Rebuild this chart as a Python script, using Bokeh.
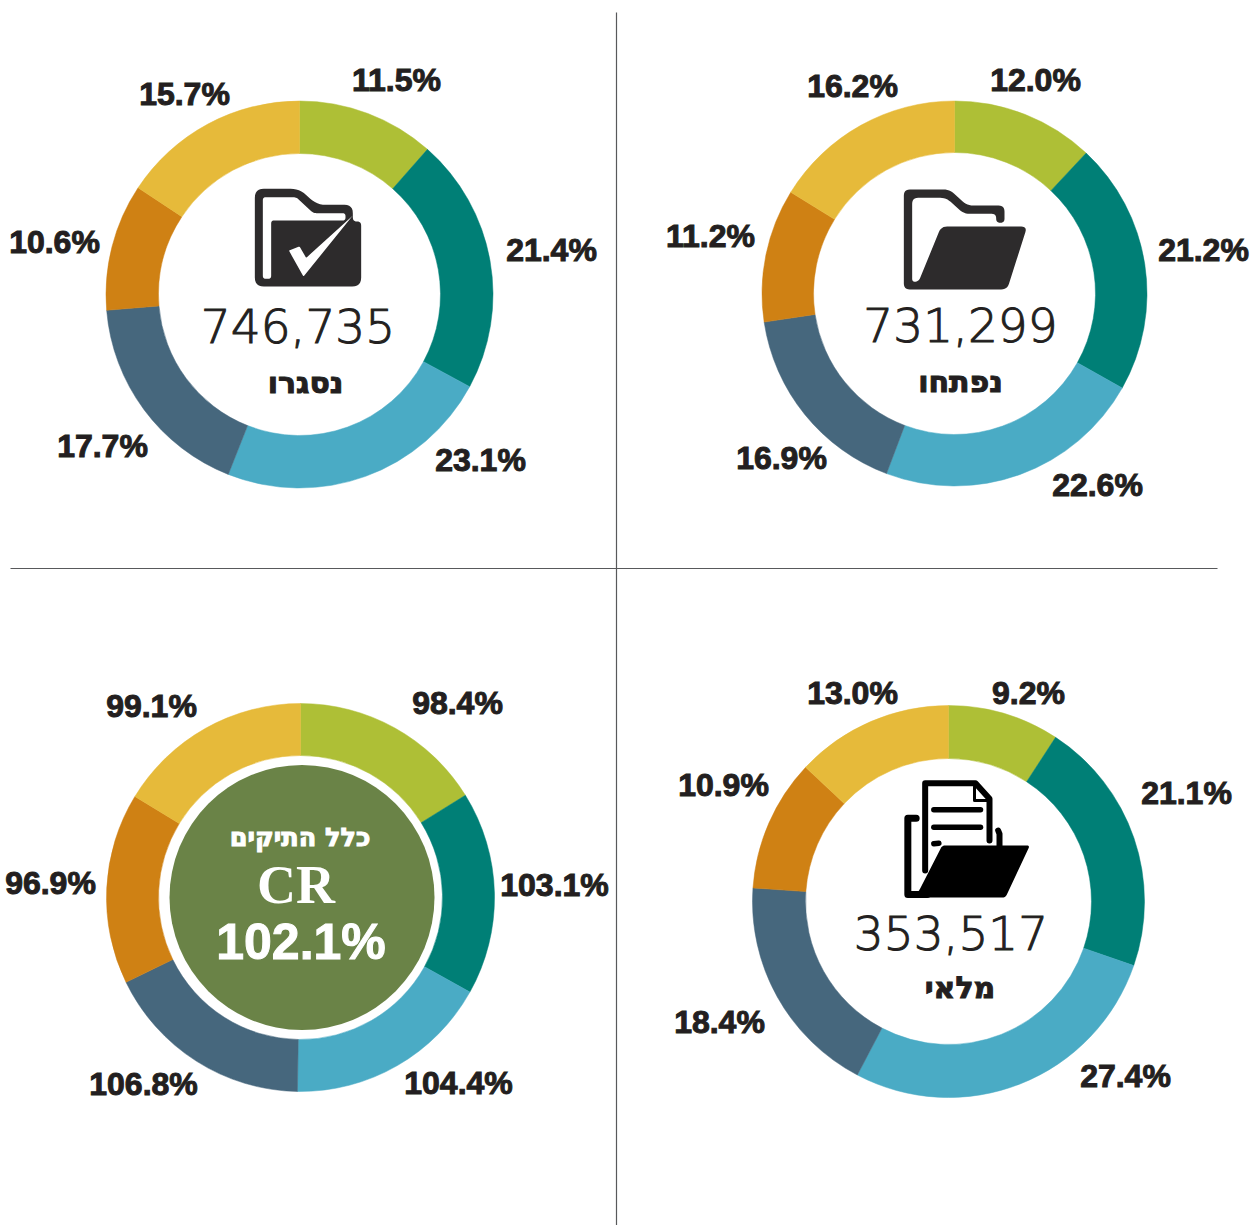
import math
from bokeh.plotting import figure
from bokeh.models import Range1d
from bokeh.core.properties import value
from bokeh.embed import file_html
from bokeh.resources import INLINE

# ---- data ----
closed_share = [11.5, 21.4, 23.1, 17.7, 10.6, 15.7]
opened_share = [12.0, 21.2, 22.6, 16.9, 11.2, 16.2]
cr_ratio = [98.4, 103.1, 104.4, 106.8, 96.9, 99.1]
pending_share = [9.2, 21.1, 27.4, 18.4, 10.9, 13.0]
closed_total = 746735
opened_total = 731299
pending_total = 353517
closed_title = "נסגרו"
opened_title = "נפתחו"
pending_title = "מלאי"
cr_title = "כלל התיקים"
cr_name = "CR"
cr_total = 102.1

# ---- style and layout ----
COLORS = ["#AEBF36", "#007F76", "#4AABC5", "#46677D", "#CF8114", "#E6BA3A"]
INK = "#231F20"
ICON = "#2D2B2C"
LABEL_FONT = "Liberation Sans"
NUM_FONT = "DejaVu Sans Light"
HEB_FONT = "DejaVu Sans"
LABEL_SIZE = "32px"

p = figure(width=1252, height=1225, output_backend="svg", toolbar_location=None,
           x_range=Range1d(0, 1252), y_range=Range1d(1225, 0),
           min_border=0, outline_line_color=None, background_fill_color="white")
p.axis.visible = False
p.grid.visible = False


def donut(vals, cx, cy, r_out, r_in, label_xy):
    total = sum(vals)
    cum = 0.0
    starts, ends = [], []
    for v in vals:
        ends.append(math.pi / 2 - cum / total * 2 * math.pi)
        cum += v
        starts.append(math.pi / 2 - cum / total * 2 * math.pi)
    p.annular_wedge(x=[cx] * 6, y=[cy] * 6, inner_radius=r_in, outer_radius=r_out,
                    start_angle=starts, end_angle=ends, fill_color=COLORS,
                    line_color=COLORS, line_width=0.5)
    p.text(x=[q[0] - 1 for q in label_xy], y=[q[1] - 1.5 for q in label_xy],
           text=[f"{v:.1f}%" for v in vals], text_align="center", text_baseline="middle",
           text_font=value(LABEL_FONT), text_font_style="bold",
           text_font_size=LABEL_SIZE, text_color=INK, text_outline_color=INK)


def rounded(pts, r):
    xs, ys = [], []
    n = len(pts)
    for i in range(n):
        x0, y0 = pts[i - 1]
        x1, y1 = pts[i]
        x2, y2 = pts[(i + 1) % n]
        d0 = math.hypot(x0 - x1, y0 - y1)
        d2 = math.hypot(x2 - x1, y2 - y1)
        rr = min(r, d0 / 2, d2 / 2)
        ax, ay = x1 + (x0 - x1) * rr / d0, y1 + (y0 - y1) * rr / d0
        bx, by = x1 + (x2 - x1) * rr / d2, y1 + (y2 - y1) * rr / d2
        for k in range(7):
            t = k / 6
            xs.append((1 - t) ** 2 * ax + 2 * t * (1 - t) * x1 + t * t * bx)
            ys.append((1 - t) ** 2 * ay + 2 * t * (1 - t) * y1 + t * t * by)
    return xs, ys


def shape(pts, ox, oy, color, r=4.0):
    xs, ys = rounded([(ox + a / 3, oy + b / 3) for a, b in pts], r)
    p.patch(xs, ys, fill_color=color, line_color=None)


def stroke(pts, ox, oy, color, w):
    p.line([ox + a / 3 for a, b in pts], [oy + b / 3 for a, b in pts], line_color=color,
           line_width=w, line_cap="round", line_join="round")


def center_text(txt, x, y, font, size, color=INK, bold=False, heavy=False):
    kw = {"text_outline_color": color} if heavy else {}
    p.text(x=[x], y=[y], text=[txt], text_align="center", text_baseline="middle",
           text_font=value(font), text_font_size=size, text_color=color,
           text_font_style="bold" if bold else "normal", **kw)


# separators
p.line([616, 616], [12, 1225], line_color="#58595B", line_width=1.2)
p.line([10, 1217], [568, 568], line_color="#58595B", line_width=1.2)

donut(closed_share, 299, 294, 193.5, 141,
      [(397, 81), (552, 251), (481, 461), (103, 447), (55, 243), (185, 95)])
donut(opened_share, 954, 293, 192.5, 141,
      [(1036, 81), (1204, 251), (1098, 486), (782, 459), (711, 237), (853, 87)])
donut(cr_ratio, 300, 897, 194, 142,
      [(458, 704), (555, 886), (459, 1084), (144, 1085), (51, 884), (152, 707)])
donut(pending_share, 948, 901, 196, 143,
      [(1029, 694), (1187, 794), (1126, 1077), (720, 1023), (724, 786), (853, 694)])

# closed folder icon
ox, oy = 189, 170
shape([(196, 55), (330, 55), (382, 103), (490, 103), (490, 153), (515, 153), (515, 348), (196, 348)],
      ox, oy, ICON, 9)
shape([(220, 80), (320, 80), (372, 128), (468, 128), (468, 150), (245, 150), (245, 325), (220, 325)],
      ox, oy, "white", 3)
shape([(298, 240), (330, 228), (350, 262), (490, 135), (342, 318)], ox, oy, "white", 1)

# open folder icon
ox, oy = 850, 170
shape([(160, 57), (297, 57), (350, 105), (462, 105), (462, 157), (437, 157), (437, 130), (340, 130),
       (287, 82), (185, 82), (185, 335), (205, 332), (272, 168), (530, 168), (470, 357), (160, 357)],
      ox, oy, ICON, 6)

# file folder icon
ox, oy = 850, 770
stroke([(197, 143), (172, 143), (172, 372), (230, 372)], ox, oy, "black", 7)
stroke([(443, 180), (447, 190), (447, 228)], ox, oy, "black", 6)
stroke([(224, 300), (224, 38), (375, 38), (417, 85), (417, 210)], ox, oy, "black", 6)
stroke([(372, 48), (372, 90), (415, 90)], ox, oy, "black", 3)
stroke([(250, 118), (390, 118)], ox, oy, "black", 5.5)
stroke([(250, 170), (390, 170)], ox, oy, "black", 5.5)
stroke([(250, 220), (265, 218)], ox, oy, "black", 5.5)
shape([(275, 225), (538, 225), (465, 381), (185, 381), (205, 362)], ox, oy, "black", 3)

# centre texts
center_text(f"{closed_total:,}", 297.5, 325.5, NUM_FONT, "47px", heavy=True)
center_text(closed_title, 305, 381.5, HEB_FONT, "30px", bold=True, heavy=True)
center_text(f"{opened_total:,}", 960, 324.5, NUM_FONT, "47px", heavy=True)
center_text(opened_title, 960, 380.5, HEB_FONT, "30px", bold=True, heavy=True)
center_text(f"{pending_total:,}", 950.5, 932, NUM_FONT, "47px", heavy=True)
center_text(pending_title, 959.5, 986.5, HEB_FONT, "30px", bold=True, heavy=True)

# CR disc
p.circle(x=[301.5], y=[897], radius=132.5, fill_color="#6A8347", line_color=None)
center_text(cr_title, 299.5, 836.5, HEB_FONT, "25.5px", "white", True, True)
center_text(cr_name, 295.5, 884, "Liberation Serif", "54px", "white", True)
center_text(f"{cr_total:.1f}%", 300.5, 941, LABEL_FONT, "50px", "white", True, True)

open("out.html", "w").write(file_html(p, INLINE))
